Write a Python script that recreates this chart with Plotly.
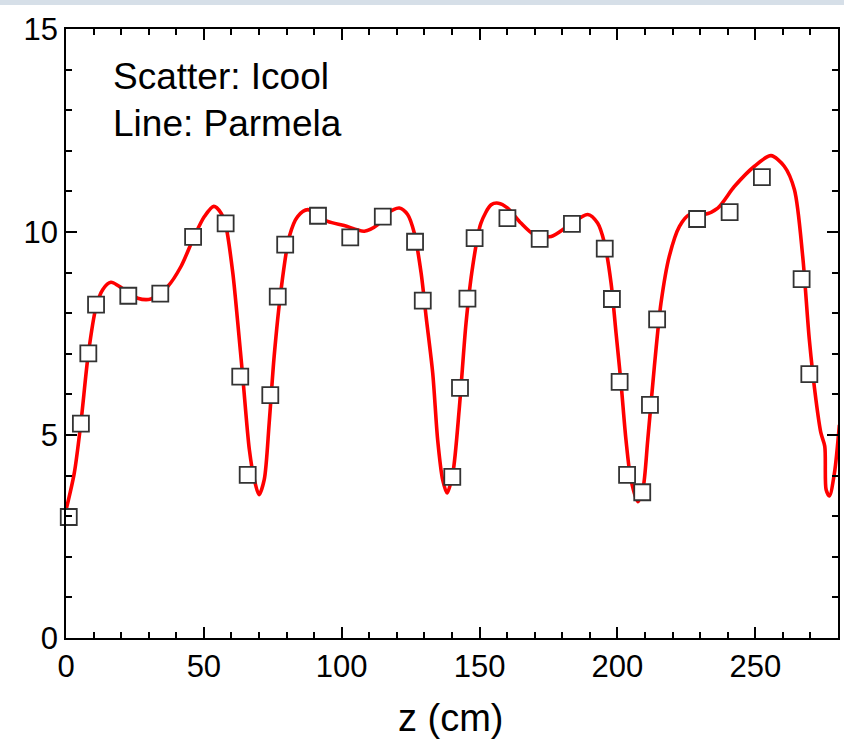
import plotly.graph_objects as go

# Icool (scatter) data
icool_z = [1.0, 5.4, 8.1, 10.9, 22.6, 34.2, 46.1, 57.9, 63.2, 65.9, 74.1, 76.8, 79.5,
           91.4, 103.1, 114.9, 126.6, 129.4, 140.1, 142.9, 145.6, 148.2,
           160.1, 171.8, 183.5, 195.4, 198.0, 200.8, 203.5, 209.0, 211.8, 214.4,
           228.9, 240.7, 252.4, 266.8, 269.6]
icool_v = [2.98, 5.28, 7.01, 8.21, 8.43, 8.48, 9.88, 10.21, 6.44, 4.02, 5.98, 8.41, 9.69,
           10.40, 9.87, 10.38, 9.76, 8.31, 3.97, 6.16, 8.36, 9.85,
           10.34, 9.83, 10.20, 9.59, 8.35, 6.31, 4.02, 3.59, 5.74, 7.85,
           10.32, 10.49, 11.35, 8.84, 6.50]

# Parmela (line) data
parmela_z = [0.0, 3.0, 5.4, 8.1, 10.9, 13.3, 16.3, 19.3, 26.0, 30.8, 36.9, 41.7, 46.5,
             50.2, 53.6, 56.2, 58.0, 60.5, 62.3, 64.1, 66.5, 68.3, 70.0, 71.9, 73.7,
             75.5, 78.0, 81.0, 84.0, 87.7, 94.9, 100.9, 108.2, 113.1, 116.7, 120.9,
             123.9, 126.3, 128.8, 130.6, 133.0, 134.8, 136.6, 138.2, 140.3, 142.7,
             145.1, 147.5, 150.5, 154.2, 156.8, 160.2, 165.0, 169.9, 176.0, 182.0,
             189.2, 192.8, 195.3, 197.7, 199.5, 201.3, 203.1, 204.9, 207.4, 209.2,
             211.0, 213.4, 215.8, 218.8, 222.5, 226.1, 231.5, 236.4, 242.4, 249.7,
             255.7, 260.5, 264.2, 267.2, 269.6, 272.0, 273.8, 275.2, 275.7, 276.9,
             278.7, 280.5]
parmela_v = [3.15, 4.06, 5.30, 7.00, 8.15, 8.58, 8.76, 8.66, 8.37, 8.35, 8.66, 9.15, 9.89,
             10.38, 10.63, 10.47, 10.14, 8.99, 7.76, 6.44, 4.64, 3.90, 3.53, 3.90, 5.30,
             6.94, 8.58, 9.89, 10.38, 10.55, 10.26, 10.16, 10.02, 10.18, 10.47, 10.59,
             10.43, 9.98, 8.99, 7.92, 6.53, 4.88, 3.90, 3.57, 4.06, 5.70,
             7.76, 9.15, 10.22, 10.67, 10.71, 10.59, 10.22, 9.93, 9.89, 10.14,
             10.43, 10.22, 9.73, 8.74, 7.51, 6.28, 4.88, 3.90, 3.36, 3.65,
             4.88, 6.69, 8.25, 9.40, 10.14, 10.43, 10.43, 10.59, 11.12, 11.62,
             11.88, 11.62, 11.04, 9.40, 7.35, 5.87, 5.05, 4.72, 3.65, 3.50,
             4.06, 5.25]

FONT = "Liberation Sans, Arial, sans-serif"

# plot-area geometry in pixels
L, R, T, B = 66, 838, 29, 638
W, H = R - L, B - T

fig = go.Figure()
fig.add_trace(go.Scatter(x=parmela_z, y=parmela_v, mode="lines",
                         line=dict(color="#ff0000", width=3.6, shape="spline", smoothing=0.8),
                         name="Parmela", showlegend=False))
fig.add_trace(go.Scatter(x=icool_z, y=icool_v, mode="markers",
                         marker=dict(symbol="square", size=16, color="white",
                                     line=dict(color="#333333", width=1.8)),
                         cliponaxis=False, name="Icool", showlegend=False))

axis_common = dict(showgrid=False, zeroline=False, showline=True, linecolor="black",
                   linewidth=1.6, mirror="ticks", ticks="inside", ticklen=11,
                   tickwidth=1.6, tickcolor="black", automargin=False,
                   tickfont=dict(family=FONT, size=31, color="black"))

fig.update_xaxes(range=[0, 280], tick0=0, dtick=50,
                 minor=dict(dtick=10, ticks="inside", ticklen=6, tickwidth=1.6, tickcolor="black"),
                 **axis_common)
fig.update_yaxes(range=[0, 15], tick0=0, dtick=5,
                 minor=dict(dtick=1, ticks="inside", ticklen=6, tickwidth=1.6, tickcolor="black"),
                 **axis_common)

fig.add_annotation(text="z (cm)", xref="paper", yref="paper",
                   x=(451 - L) / W, y=(B - 718) / H, xanchor="center", yanchor="middle",
                   showarrow=False, font=dict(family=FONT, size=38, color="black"))
fig.add_annotation(text="Scatter: Icool", xref="paper", yref="paper",
                   x=(111 - L) / W, y=(B - 76) / H, xanchor="left", yanchor="middle",
                   showarrow=False, font=dict(family=FONT, size=37, color="black"))
fig.add_annotation(text="Line: Parmela", xref="paper", yref="paper",
                   x=(111 - L) / W, y=(B - 123) / H, xanchor="left", yanchor="middle",
                   showarrow=False, font=dict(family=FONT, size=37, color="black"))

# light band along the top edge of the image
fig.add_shape(type="rect", xref="paper", yref="paper",
              x0=-L / W, x1=(844 - L) / W,
              y0=(B - 5) / H, y1=B / H,
              fillcolor="#d6dfe8", line=dict(width=0), layer="above")

fig.update_layout(width=844, height=745, margin=dict(l=L, r=844 - R, t=T, b=745 - B),
                  paper_bgcolor="white", plot_bgcolor="white",
                  font=dict(family=FONT, color="black"))

fig.write_html("out.html", config={"displayModeBar": False},
               post_script="document.body.style.margin='0';document.body.style.padding='0';"
                           "document.body.style.overflow='hidden';")
